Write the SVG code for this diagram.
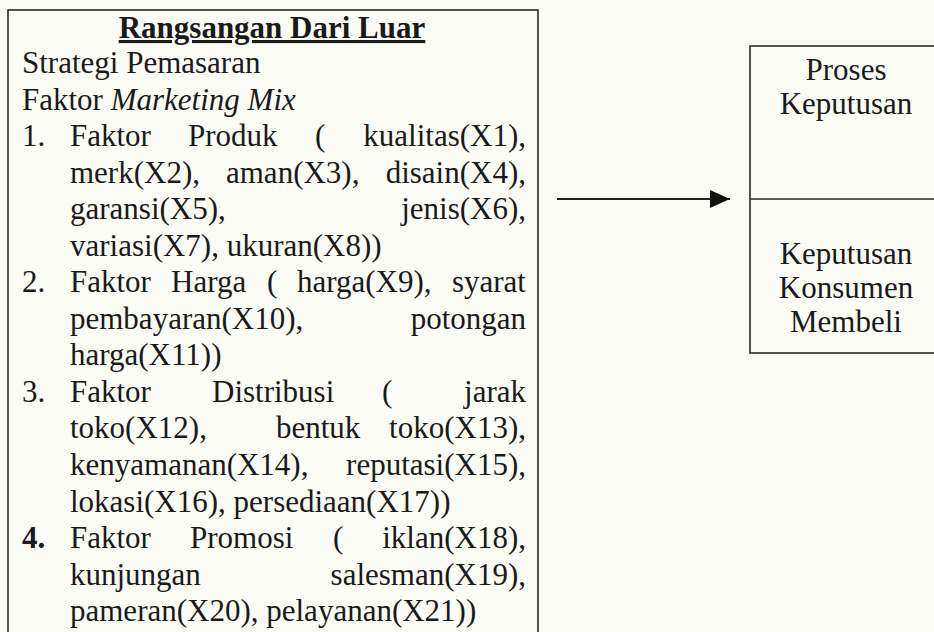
<svg xmlns="http://www.w3.org/2000/svg" width="934" height="632" viewBox="0 0 934 632">
<defs>
<style>
.t{font-family:"Liberation Serif","Times New Roman",serif;font-size:31px;fill:#1a1a1a}
.b{font-weight:bold}
.box{fill:none;stroke:#2a2a2a;stroke-width:1.6}
.e{text-anchor:end}
.m{text-anchor:middle}
</style>
<marker id="ah" markerUnits="userSpaceOnUse" markerWidth="20" markerHeight="18" refX="20" refY="9" orient="auto">
<path d="M0,0 L20,9 L0,18 z" fill="#111"/>
</marker>
</defs>
<rect width="934" height="632" fill="#fcfcf7"/>
<g id="connectors">
<line x1="557" y1="199" x2="730" y2="199" stroke="#222" stroke-width="1.8" marker-end="url(#ah)"/>
</g>
<g id="rangsangan">
<rect class="box" x="8" y="10" width="530" height="640"/>
<text class="t b m" x="272" y="38" text-decoration="underline">Rangsangan Dari Luar</text>
<text class="t" x="22" y="73">Strategi Pemasaran</text>
<text class="t" x="22" y="109.5">Faktor <tspan font-style="italic">Marketing Mix</tspan></text>
<text class="t" x="22" y="146">1.</text>
<text class="t" x="70" y="146">Faktor</text>
<text class="t" x="188" y="146">Produk</text>
<text class="t" x="315" y="146">(</text>
<text class="t e" x="526" y="146">kualitas(X1),</text>
<text class="t" x="70" y="182.6">merk(X2),</text>
<text class="t" x="226" y="182.6">aman(X3),</text>
<text class="t e" x="526" y="182.6">disain(X4),</text>
<text class="t" x="70" y="219.1">garansi(X5),</text>
<text class="t e" x="526" y="219.1">jenis(X6),</text>
<text class="t" x="70" y="255.7">variasi(X7), ukuran(X8))</text>
<text class="t" x="22" y="292.2">2.</text>
<text class="t" x="70" y="292.2">Faktor</text>
<text class="t" x="171" y="292.2">Harga</text>
<text class="t" x="267" y="292.2">(</text>
<text class="t" x="297" y="292.2">harga(X9),</text>
<text class="t e" x="526" y="292.2">syarat</text>
<text class="t" x="70" y="328.7">pembayaran(X10),</text>
<text class="t e" x="526" y="328.7">potongan</text>
<text class="t" x="70" y="365.3">harga(X11))</text>
<text class="t" x="22" y="401.8">3.</text>
<text class="t" x="70" y="401.8">Faktor</text>
<text class="t" x="212" y="401.8">Distribusi</text>
<text class="t" x="382" y="401.8">(</text>
<text class="t e" x="526" y="401.8">jarak</text>
<text class="t" x="70" y="438.4">toko(X12),</text>
<text class="t" x="276" y="438.4">bentuk</text>
<text class="t e" x="526" y="438.4">toko(X13),</text>
<text class="t" x="70" y="474.9">kenyamanan(X14),</text>
<text class="t e" x="526" y="474.9">reputasi(X15),</text>
<text class="t" x="70" y="511.5">lokasi(X16), persediaan(X17))</text>
<text class="t b" x="22" y="548">4.</text>
<text class="t" x="70" y="548">Faktor</text>
<text class="t" x="190" y="548">Promosi</text>
<text class="t" x="333" y="548">(</text>
<text class="t e" x="526" y="548">iklan(X18),</text>
<text class="t" x="70" y="584.5">kunjungan</text>
<text class="t e" x="526" y="584.5">salesman(X19),</text>
<text class="t" x="70" y="621">pameran(X20), pelayanan(X21))</text>
</g>
<g id="keputusan">
<rect class="box" x="750" y="46" width="200" height="307"/>
<line x1="750" y1="199" x2="934" y2="199" stroke="#2a2a2a" stroke-width="1.6"/>
<text class="t m" x="846" y="80">Proses</text>
<text class="t m" x="846" y="114">Keputusan</text>
<text class="t m" x="846" y="264">Keputusan</text>
<text class="t m" x="846" y="298">Konsumen</text>
<text class="t m" x="846" y="332">Membeli</text>
</g>
</svg>
